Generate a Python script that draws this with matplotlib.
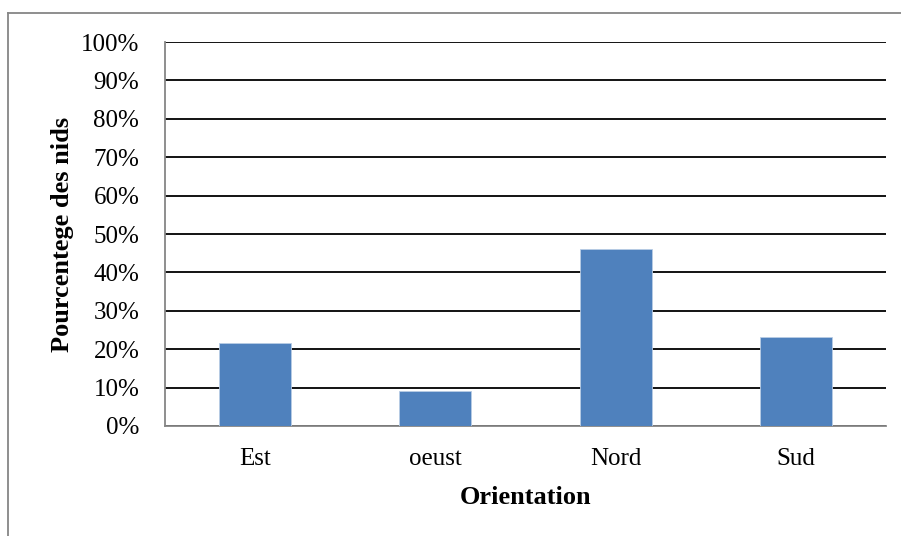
import numpy as np
import matplotlib.pyplot as plt
from matplotlib.lines import Line2D

# Données
orientations = ["Est", "oeust", "Nord", "Sud"]
pourcentages = [21.5, 9.2, 46.2, 23.1]
graduations = list(range(0, 101, 10))

plt.rcParams['font.family'] = ['Liberation Serif', 'DejaVu Serif']

fig = plt.figure(figsize=(9.01, 5.36), dpi=100)
ax = fig.add_axes([165 / 901, 1 - 426 / 536, 721 / 901, 384 / 536])

x = np.arange(len(orientations))
ax.bar(x, pourcentages, width=0.4, color='#4f81bd', edgecolor='#b9cde5', linewidth=0.6, zorder=3)

ax.set_xlim(-0.5, len(orientations) - 0.5)
ax.set_ylim(0, 100)
ax.set_yticks(graduations)
ax.set_yticklabels([f"{g}%" for g in graduations])
ax.set_xticks(x)
ax.set_xticklabels(orientations)
ax.tick_params(axis='both', length=0, labelsize=18)
ax.tick_params(axis='y', pad=18.5)
ax.tick_params(axis='x', pad=16)

ax.yaxis.grid(True, color='black', linewidth=1.3, zorder=0)
for s in ['top', 'right']:
    ax.spines[s].set_visible(False)
ax.spines['left'].set_color('#868686')
ax.spines['bottom'].set_color('#868686')
ax.spines['left'].set_linewidth(1.3)
ax.spines['bottom'].set_linewidth(1.3)

ax.set_xlabel("Orientation", fontsize=19, fontweight='bold', labelpad=11)
ax.set_ylabel("Pourcentege des nids", fontsize=19, fontweight='bold', labelpad=5)

# cadre du graphique
fig.add_artist(Line2D([8 / 901, 1], [1 - 13 / 536, 1 - 13 / 536], color='#868686', linewidth=1.3, transform=fig.transFigure))
fig.add_artist(Line2D([8 / 901, 8 / 901], [0, 1 - 13 / 536], color='#868686', linewidth=1.3, transform=fig.transFigure))

fig.savefig("out.png", dpi=100)
